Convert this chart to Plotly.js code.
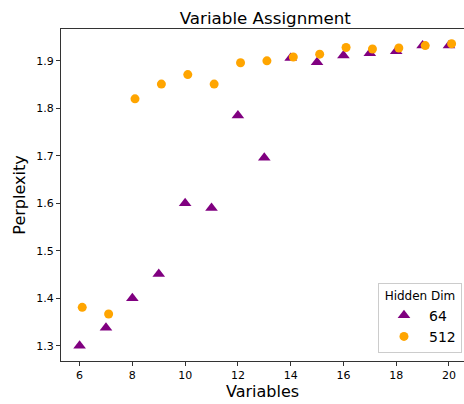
<!DOCTYPE html>
<html>
<head>
<meta charset="utf-8">
<script src="https://cdn.plot.ly/plotly-3.0.1.min.js"></script>
<style>html,body{margin:0;padding:0;background:#fff;}#chart{width:464px;height:404px;}</style>
</head>
<body>
<div id="chart"></div>
<script>
const variables = [6, 7, 8, 9, 10, 11, 12, 13, 14, 15, 16, 17, 18, 19, 20];
const variables512 = [6.1, 7.1, 8.1, 9.1, 10.1, 11.1, 12.1, 13.1, 14.1, 15.1, 16.1, 17.1, 18.1, 19.1, 20.1];
const perplexity64 = [1.300, 1.338, 1.400, 1.451, 1.600, 1.590, 1.785, 1.696, 1.906, 1.897, 1.911, 1.916, 1.920, 1.932, 1.932];
const perplexity512 = [1.381, 1.367, 1.820, 1.851, 1.871, 1.851, 1.896, 1.900, 1.908, 1.914, 1.928, 1.925, 1.927, 1.932, 1.936];
const seriesNames = ["64", "512"];
const xTicks = [6, 8, 10, 12, 14, 16, 18, 20];
const yTicks = [1.3, 1.4, 1.5, 1.6, 1.7, 1.8, 1.9];

const font = "DejaVu Sans, sans-serif";
const traces = [
  {x: variables, y: perplexity64, name: seriesNames[0], type: "scatter", mode: "markers",
   marker: {symbol: "triangle-up", size: 11, color: "#800080"}},
  {x: variables512, y: perplexity512, name: seriesNames[1], type: "scatter", mode: "markers",
   marker: {symbol: "circle", size: 9, color: "#FFA500"}}
];
const axisCommon = {
  showgrid: false, zeroline: false, showline: true, linecolor: "#333", linewidth: 1,
  ticks: "outside", ticklen: 4, tickcolor: "#333", tickwidth: 1,
  tickfont: {family: font, size: 11, color: "#000"}
};
const layout = {
  width: 464, height: 404,
  margin: {l: 61, r: 0, t: 29, b: 43},
  paper_bgcolor: "#fff", plot_bgcolor: "#fff",
  title: {text: "Variable Assignment", font: {family: font, size: 16.7, color: "#000"},
          x: 0.507, xref: "paper", xanchor: "center", y: 1, yref: "paper", yanchor: "bottom", pad: {b: 5}},
  xaxis: Object.assign({}, axisCommon, {mirror: true, range: [5.295, 20.57], tickvals: xTicks,
    title: {text: "Variables", font: {family: font, size: 16, color: "#000"}, standoff: 3}}),
  yaxis: Object.assign({}, axisCommon, {mirror: false, range: [1.268, 1.967], tickvals: yTicks, ticktext: yTicks.map(v => v.toFixed(1)),
    title: {text: "Perplexity", font: {family: font, size: 16, color: "#000"}, standoff: 6}}),
  showlegend: true,
  legend: {x: 0.995, xanchor: "right", y: 0.024, yanchor: "bottom",
    bgcolor: "rgba(255,255,255,0.8)", bordercolor: "#ccc", borderwidth: 1,
    font: {family: font, size: 14, color: "#000"}, itemwidth: 40,
    title: {text: "Hidden Dim", side: "top center", font: {family: font, size: 12, color: "#000"}}}
};
Plotly.newPlot("chart", traces, layout, {displayModeBar: false, staticPlot: true});
</script>
</body>
</html>
